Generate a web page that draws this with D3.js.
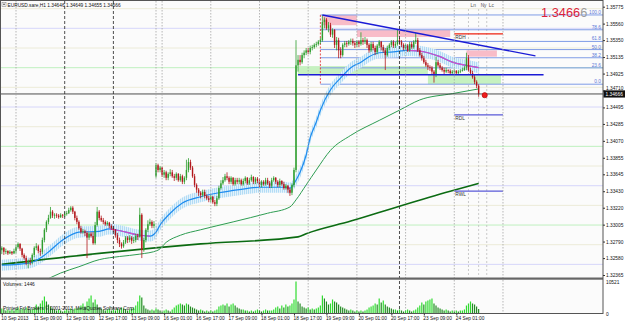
<!DOCTYPE html>
<html>
<head>
<meta charset="utf-8">
<script src="https://cdn.jsdelivr.net/npm/d3@7"></script>
<style>
  body { margin: 0; background: #fff; }
  svg { display: block; font-family: "Liberation Sans", Arial, sans-serif; }
</style>
</head>
<body>
<script>
// EURUSD H1 candles, 10 Sep 17:00 .. 24 Sep 12:00 (open, high, low, close)
const ohlc = [
  [1.3268,1.3273,1.3263,1.3271],[1.3271,1.3272,1.3262,1.3266],[1.3266,1.3270,1.3263,1.3267],[1.3267,1.3268,1.3262,1.3264],
  [1.3264,1.3268,1.3263,1.3266],[1.3266,1.3267,1.3262,1.3264],[1.3264,1.3270,1.3263,1.3267],[1.3267,1.3275,1.3264,1.3272],
  [1.3272,1.3278,1.3270,1.3276],[1.3276,1.3277,1.3267,1.3270],[1.3270,1.3271,1.3259,1.3262],[1.3262,1.3264,1.3256,1.3258],
  [1.3258,1.3261,1.3249,1.3252],[1.3252,1.3256,1.3245,1.3254],[1.3254,1.3258,1.3249,1.3253],[1.3253,1.3264,1.3250,1.3262],
  [1.3262,1.3273,1.3259,1.3271],[1.3271,1.3277,1.3268,1.3273],[1.3273,1.3275,1.3264,1.3267],[1.3267,1.3270,1.3261,1.3266],
  [1.3266,1.3284,1.3263,1.3281],[1.3281,1.3296,1.3278,1.3294],[1.3294,1.3306,1.3291,1.3304],[1.3304,1.3313,1.3301,1.3309],
  [1.3309,1.3323,1.3308,1.3317],[1.3317,1.3319,1.3309,1.3312],[1.3312,1.3315,1.3308,1.3313],[1.3313,1.3315,1.3309,1.3312],
  [1.3312,1.3314,1.3308,1.3310],[1.3310,1.3315,1.3309,1.3313],[1.3313,1.3314,1.3309,1.3312],[1.3312,1.3317,1.3310,1.3314],
  [1.3314,1.3318,1.3312,1.3315],[1.3315,1.3322,1.3314,1.3319],[1.3319,1.3324,1.3317,1.3322],[1.3322,1.3324,1.3314,1.3317],
  [1.3317,1.3318,1.3306,1.3309],[1.3309,1.3312,1.3301,1.3304],[1.3304,1.3306,1.3294,1.3296],[1.3296,1.3299,1.3289,1.3291],
  [1.3291,1.3295,1.3289,1.3292],[1.3292,1.3294,1.3286,1.3290],[1.3290,1.3292,1.3258,1.3284],[1.3284,1.3291,1.3281,1.3289],
  [1.3289,1.3291,1.3284,1.3286],[1.3286,1.3291,1.3275,1.3277],[1.3277,1.3304,1.3275,1.3300],[1.3300,1.3323,1.3298,1.3317],
  [1.3317,1.3319,1.3306,1.3309],[1.3309,1.3312,1.3304,1.3306],[1.3306,1.3309,1.3301,1.3304],[1.3304,1.3306,1.3299,1.3301],
  [1.3301,1.3305,1.3299,1.3303],[1.3303,1.3304,1.3296,1.3299],[1.3299,1.3301,1.3294,1.3296],[1.3296,1.3299,1.3291,1.3294],
  [1.3294,1.3295,1.3284,1.3287],[1.3287,1.3290,1.3277,1.3281],[1.3281,1.3284,1.3272,1.3276],[1.3276,1.3278,1.3270,1.3273],
  [1.3273,1.3281,1.3271,1.3278],[1.3278,1.3286,1.3276,1.3284],[1.3284,1.3286,1.3277,1.3281],[1.3281,1.3287,1.3278,1.3284],
  [1.3284,1.3286,1.3276,1.3280],[1.3280,1.3285,1.3277,1.3281],[1.3281,1.3289,1.3278,1.3286],[1.3286,1.3289,1.3281,1.3285],
  [1.3285,1.3322,1.3284,1.3313],[1.3313,1.3315,1.3258,1.3268],[1.3268,1.3284,1.3266,1.3281],[1.3281,1.3296,1.3278,1.3294],
  [1.3294,1.3306,1.3291,1.3301],[1.3301,1.3308,1.3299,1.3304],[1.3304,1.3306,1.3296,1.3299],[1.3299,1.3305,1.3296,1.3301],
  [1.3362,1.3379,1.3360,1.3376],[1.3376,1.3378,1.3367,1.3370],[1.3370,1.3375,1.3367,1.3373],[1.3373,1.3374,1.3361,1.3364],
  [1.3364,1.3370,1.3360,1.3367],[1.3367,1.3369,1.3357,1.3360],[1.3360,1.3367,1.3357,1.3365],[1.3365,1.3371,1.3362,1.3367],
  [1.3367,1.3370,1.3360,1.3362],[1.3362,1.3365,1.3356,1.3360],[1.3360,1.3367,1.3357,1.3365],[1.3365,1.3366,1.3355,1.3357],
  [1.3357,1.3365,1.3355,1.3362],[1.3362,1.3364,1.3352,1.3355],[1.3355,1.3362,1.3352,1.3360],[1.3360,1.3383,1.3357,1.3370],
  [1.3370,1.3385,1.3367,1.3380],[1.3380,1.3383,1.3370,1.3373],[1.3373,1.3375,1.3360,1.3362],[1.3362,1.3365,1.3348,1.3351],
  [1.3351,1.3353,1.3341,1.3345],[1.3345,1.3347,1.3337,1.3341],[1.3341,1.3343,1.3334,1.3338],[1.3338,1.3345,1.3336,1.3342],
  [1.3342,1.3345,1.3334,1.3337],[1.3337,1.3339,1.3332,1.3334],[1.3334,1.3337,1.3329,1.3332],[1.3332,1.3338,1.3329,1.3336],
  [1.3336,1.3337,1.3327,1.3329],[1.3329,1.3332,1.3324,1.3327],[1.3327,1.3337,1.3324,1.3334],[1.3334,1.3350,1.3332,1.3347],
  [1.3347,1.3357,1.3345,1.3353],[1.3353,1.3361,1.3351,1.3357],[1.3357,1.3365,1.3355,1.3362],[1.3362,1.3367,1.3357,1.3360],
  [1.3360,1.3362,1.3352,1.3355],[1.3355,1.3362,1.3352,1.3360],[1.3360,1.3361,1.3350,1.3352],[1.3352,1.3360,1.3350,1.3357],
  [1.3357,1.3360,1.3352,1.3355],[1.3355,1.3360,1.3352,1.3357],[1.3357,1.3359,1.3350,1.3352],[1.3352,1.3359,1.3350,1.3356],
  [1.3356,1.3362,1.3353,1.3360],[1.3360,1.3361,1.3351,1.3353],[1.3353,1.3360,1.3351,1.3357],[1.3357,1.3364,1.3355,1.3361],
  [1.3361,1.3362,1.3352,1.3355],[1.3355,1.3361,1.3352,1.3359],[1.3359,1.3361,1.3353,1.3356],[1.3356,1.3359,1.3348,1.3351],
  [1.3351,1.3357,1.3348,1.3355],[1.3355,1.3357,1.3350,1.3352],[1.3352,1.3360,1.3350,1.3357],[1.3357,1.3360,1.3351,1.3353],
  [1.3353,1.3356,1.3347,1.3350],[1.3350,1.3360,1.3347,1.3357],[1.3357,1.3362,1.3355,1.3360],[1.3360,1.3361,1.3352,1.3355],
  [1.3355,1.3357,1.3348,1.3351],[1.3351,1.3359,1.3348,1.3356],[1.3356,1.3357,1.3350,1.3352],[1.3352,1.3355,1.3345,1.3347],
  [1.3347,1.3352,1.3345,1.3350],[1.3350,1.3351,1.3341,1.3345],[1.3345,1.3347,1.3337,1.3341],[1.3341,1.3353,1.3338,1.3351],
  [1.3351,1.3373,1.3348,1.3370],[1.3370,1.3535,1.3367,1.3503],[1.3503,1.3516,1.3495,1.3510],[1.3510,1.3516,1.3503,1.3507],
  [1.3507,1.3519,1.3505,1.3516],[1.3516,1.3522,1.3512,1.3519],[1.3519,1.3525,1.3516,1.3522],[1.3522,1.3525,1.3517,1.3520],
  [1.3520,1.3528,1.3517,1.3525],[1.3525,1.3529,1.3522,1.3526],[1.3526,1.3531,1.3524,1.3529],[1.3529,1.3533,1.3526,1.3530],
  [1.3530,1.3535,1.3528,1.3533],[1.3533,1.3538,1.3530,1.3535],[1.3535,1.3567,1.3533,1.3558],[1.3558,1.3564,1.3550,1.3561],
  [1.3561,1.3563,1.3548,1.3550],[1.3550,1.3558,1.3545,1.3554],[1.3554,1.3557,1.3539,1.3542],[1.3542,1.3550,1.3538,1.3548],
  [1.3548,1.3549,1.3525,1.3529],[1.3529,1.3539,1.3522,1.3535],[1.3535,1.3538,1.3512,1.3522],[1.3522,1.3526,1.3512,1.3516],
  [1.3516,1.3531,1.3514,1.3529],[1.3529,1.3534,1.3526,1.3531],[1.3531,1.3534,1.3526,1.3530],[1.3530,1.3535,1.3528,1.3533],
  [1.3533,1.3537,1.3529,1.3534],[1.3534,1.3537,1.3528,1.3531],[1.3531,1.3534,1.3525,1.3529],[1.3529,1.3535,1.3526,1.3533],
  [1.3533,1.3535,1.3526,1.3530],[1.3530,1.3545,1.3528,1.3535],[1.3535,1.3538,1.3529,1.3533],[1.3533,1.3539,1.3530,1.3535],
  [1.3535,1.3537,1.3525,1.3529],[1.3529,1.3531,1.3519,1.3522],[1.3522,1.3533,1.3520,1.3530],[1.3530,1.3533,1.3522,1.3525],
  [1.3525,1.3528,1.3516,1.3520],[1.3520,1.3530,1.3517,1.3528],[1.3528,1.3535,1.3525,1.3533],[1.3533,1.3534,1.3522,1.3526],
  [1.3526,1.3529,1.3519,1.3522],[1.3522,1.3525,1.3497,1.3516],[1.3516,1.3528,1.3514,1.3525],[1.3525,1.3531,1.3522,1.3529],
  [1.3529,1.3535,1.3526,1.3533],[1.3533,1.3535,1.3525,1.3528],[1.3528,1.3533,1.3525,1.3530],[1.3530,1.3548,1.3528,1.3535],
  [1.3535,1.3538,1.3529,1.3533],[1.3533,1.3535,1.3526,1.3529],[1.3529,1.3531,1.3522,1.3525],[1.3525,1.3530,1.3522,1.3528],
  [1.3528,1.3530,1.3520,1.3522],[1.3522,1.3533,1.3520,1.3530],[1.3530,1.3533,1.3524,1.3526],[1.3526,1.3535,1.3524,1.3533],
  [1.3533,1.3544,1.3530,1.3535],[1.3535,1.3538,1.3520,1.3522],[1.3522,1.3525,1.3514,1.3516],[1.3516,1.3519,1.3509,1.3512],
  [1.3512,1.3515,1.3505,1.3507],[1.3507,1.3510,1.3501,1.3503],[1.3503,1.3506,1.3497,1.3501],[1.3501,1.3503,1.3496,1.3500],
  [1.3500,1.3502,1.3492,1.3495],[1.3495,1.3497,1.3481,1.3491],[1.3491,1.3514,1.3488,1.3507],[1.3507,1.3510,1.3501,1.3503],
  [1.3503,1.3506,1.3497,1.3500],[1.3500,1.3502,1.3495,1.3497],[1.3497,1.3500,1.3492,1.3495],[1.3495,1.3500,1.3493,1.3497],
  [1.3497,1.3498,1.3493,1.3496],[1.3496,1.3498,1.3491,1.3493],[1.3493,1.3497,1.3492,1.3495],[1.3495,1.3498,1.3492,1.3496],
  [1.3496,1.3497,1.3491,1.3493],[1.3493,1.3497,1.3492,1.3495],[1.3495,1.3498,1.3493,1.3496],[1.3496,1.3500,1.3495,1.3497],
  [1.3497,1.3502,1.3496,1.3500],[1.3500,1.3519,1.3497,1.3512],[1.3512,1.3516,1.3495,1.3497],[1.3497,1.3500,1.3491,1.3493],
  [1.3493,1.3496,1.3486,1.3488],[1.3488,1.3491,1.3479,1.3482],[1.3482,1.3484,1.3474,1.3477],[1.3477,1.3479,1.3463,1.34666]
];

const volumes = [
  1650,1320,990,1320,990,1320,990,1650,1970,1320,1650,1320,1970,1650,1320,
  1320,1970,2960,2300,3290,4280,5590,3950,2960,2300,
  1650,1320,990,1320,990,660,990,1320,990,1650,1320,1650,
  1650,1970,2630,3290,2300,3950,4940,5920,3620,4610,2960,1970,
  1650,1320,990,1320,1650,990,1320,990,1650,1320,1970,1650,1320,990,1320,1650,1970,
  2630,3950,5920,5270,2630,1650,
  1320,990,1320,990,1650,1320,990,660,990,1320,990,660,
  1320,1970,2630,2960,3290,2960,2630,3290,2960,2300,1970,1650,
  1320,990,1320,990,660,990,660,990,660,990,
  1320,2300,2630,2960,2630,3290,2300,2960,3290,2630,1970,1650,1320,1320,990,
  990,660,990,660,990,1320,990,660,990,1320,990,990,
  990,1320,1970,2300,1650,2630,1970,2960,2300,2630,3290,
  4610,10521,3950,
  3290,2300,1970,1650,1970,1320,1650,1320,1650,1970,
  2630,5920,4940,3950,2960,3290,4610,3950,3620,2960,2300,1970,
  1650,1320,990,1320,990,660,990,660,990,660,990,
  1320,1970,2300,2630,3290,2960,4940,3620,4280,2960,2300,1970,1650,1320,
  1320,990,1320,990,660,990,1320,990,660,990,1320,
  1970,2630,3620,2960,3950,4280,4610,4940,3290,2630,1970,1650,
  1320,990,1320,990,660,990,660,990,660,990,990,1320,
  2630,3290,3950,3290,2960,2300,1446
];

// moving averages, [bar, price]
const fastMA = [[0,1.3249],[14,1.3252],[19,1.3258],[24,1.3268],[30,1.3281],[38,1.3291],[48,1.3292],[53,1.3295],
  [56,1.3294],[68,1.3287],[73,1.3286],[76,1.3291],[78,1.3300],[83,1.3315],[89,1.3328],[98,1.3336],[107,1.3341],
  [117,1.3345],[127,1.3348],[139,1.3348],[142,1.3347],[145,1.3357],[147,1.3367],[150,1.3389],[152,1.3411],
  [155,1.3431],[157,1.3446],[162,1.3472],[167,1.3487],[172,1.3500],[177,1.3507],[181,1.3514],[186,1.3519],
  [193,1.3520],[200,1.3522],[206,1.3521],[210,1.3519],[216,1.3514],[222,1.3507],[229,1.3503],[235,1.3500]];
const midMA = [[20,1.3228],[29,1.3239],[38,1.3247],[48,1.3256],[58,1.3260],[68,1.3263],[77,1.3268],[81,1.3278],
  [88,1.3287],[98,1.3294],[114,1.3304],[131,1.3315],[142,1.3323],[145,1.3332],[150,1.3351],[155,1.3370],
  [162,1.3395],[172,1.3414],[186,1.3433],[196,1.3446],[206,1.3459],[222,1.3467],[235,1.3473]];
const slowMA = [[0,1.3250],[48,1.3264],[98,1.3276],[146,1.3285],[150,1.3289],[172,1.3305],[196,1.3324],
  [221,1.3343],[235,1.3353]];
const bandHalf = 0.0007;

const priceTicks = [1.35775,1.35560,1.35350,1.35135,1.34925,1.34710,1.34495,1.34285,1.34070,
  1.33855,1.33645,1.33430,1.33220,1.33005,1.32790,1.32580,1.32365];
const timeBars = [0,16,32,48,64,80,96,112,128,144,160,176,192,208,224];
const timeLabels = ["10 Sep 2013","11 Sep 09:00","12 Sep 01:00","12 Sep 17:00","13 Sep 09:00","16 Sep 01:00",
  "16 Sep 17:00","17 Sep 09:00","18 Sep 01:00","18 Sep 17:00","19 Sep 09:00","20 Sep 01:00","20 Sep 17:00",
  "23 Sep 09:00","24 Sep 01:00"];

const roundLevels = [1.3575,1.3550,1.3525,1.3500,1.3475,1.3450,1.3425,1.3400,1.3375,1.3350,1.3325,1.3300,1.3275,1.3250];
const fibRatios = [0, 23.6, 38.2, 50, 61.8, 78.6, 100];
const fibLow = 1.3479, fibHigh = 1.3567, fibBar = 157;

const pinkZones = [[158,175,1.3554,1.3567],[175,221,1.3539,1.3548],[229,244,1.3514,1.3522]];
const greenZones = [[146,210,1.3492,1.3502],[210,246,1.3479,1.3492]];

const blackSeparators = [31,55,196];
const graySeparators = [7,76,79,103,127,151,175,199,223,247];
const sessionBars = [230,235,239];
const sessionNames = ["Ln","Ny","Lc"];

const levelNames = ["RDH","RDL","RWL"];
const levelPrices = [1.3543,1.3440,1.3343];
const trendBars = [158,263], trendPrices = [1.3567,1.3515];
const supportPrice = 1.3491, supportBars = [146,267];
const lastPrice = 1.34666;
const titleText = "EURUSD.sare,H1  1.34646 1.34649 1.34655 1.34666";

// layout
const width = 625, height = 324;
const plotRight = 603, mainBottom = 277.5, volBottom = 313.5;

const svg = d3.select("body").append("svg").attr("width", width).attr("height", height);
svg.append("rect").attr("width", width).attr("height", height).attr("fill", "#fff");
svg.append("rect").attr("x", 0.5).attr("y", 0.5).attr("width", plotRight - 0.5).attr("height", volBottom - 0.5)
  .attr("fill", "#fbfbfb");

const x = d3.scaleLinear().domain([0, 296]).range([1.8, 602.4]);
const y = d3.scaleLinear().domain([1.32365, 1.35775]).range([275, 6.7]);
const yv = d3.scaleLinear().domain([0, 10521]).range([volBottom, 281.5]);

const defs = svg.append("defs");
defs.append("clipPath").attr("id", "main").append("rect")
  .attr("x", 0).attr("y", 0).attr("width", plotRight).attr("height", mainBottom);
const hatch = defs.append("pattern").attr("id", "hatch").attr("patternUnits", "userSpaceOnUse")
  .attr("width", 2).attr("height", 4);
hatch.append("rect").attr("width", 2).attr("height", 4).attr("fill", "#e2f2fc");
hatch.append("line").attr("x1", 0.5).attr("x2", 0.5).attr("y1", 0).attr("y2", 4)
  .attr("stroke", "#a2d4f2").attr("stroke-width", 0.8);

const main = svg.append("g").attr("clip-path", "url(#main)");

// round number levels
main.selectAll(".lvl").data(roundLevels).enter().append("line")
  .attr("x1", 0).attr("x2", plotRight).attr("y1", d => y(d)).attr("y2", d => y(d))
  .attr("stroke", d => {
    const p = Math.round(d * 10000) % 100;
    return p === 0 ? "#bff0bf" : p === 50 ? "#d6d6fa" : "#ecebd8";
  }).attr("stroke-width", 1);

// separators (both panes)
svg.selectAll(".sepk").data(blackSeparators).enter().append("line")
  .attr("x1", d => x(d)).attr("x2", d => x(d)).attr("y1", 1).attr("y2", volBottom)
  .attr("stroke", "#222").attr("stroke-width", 0.8).attr("stroke-dasharray", "3,2");
svg.selectAll(".sepg").data(graySeparators).enter().append("line")
  .attr("x1", d => x(d)).attr("x2", d => x(d)).attr("y1", 1).attr("y2", volBottom)
  .attr("stroke", "#a4a4a4").attr("stroke-width", 0.8).attr("stroke-dasharray", "1.5,1.5");
main.selectAll(".sess").data(sessionBars).enter().append("line")
  .attr("x1", d => x(d)).attr("x2", d => x(d)).attr("y1", 9).attr("y2", mainBottom)
  .attr("stroke", "#b4b4b4").attr("stroke-width", 0.7).attr("stroke-dasharray", "2,2");

// zones
main.selectAll(".gz").data(greenZones).enter().append("rect")
  .attr("x", d => x(d[0])).attr("width", d => x(d[1]) - x(d[0]))
  .attr("y", d => y(d[3])).attr("height", d => y(d[2]) - y(d[3]))
  .attr("fill", "#c6f1c0");
main.selectAll(".pz").data(pinkZones).enter().append("rect")
  .attr("x", d => x(d[0])).attr("width", d => x(d[1]) - x(d[0]))
  .attr("y", d => y(d[3])).attr("height", d => y(d[2]) - y(d[3]))
  .attr("fill", "#f8bcc8");

// fibonacci
const fibPrice = r => fibLow + (fibHigh - fibLow) * r / 100;
main.selectAll(".fib").data(fibRatios).enter().append("line")
  .attr("x1", x(fibBar)).attr("x2", plotRight).attr("y1", d => y(fibPrice(d))).attr("y2", d => y(fibPrice(d)))
  .attr("stroke", "#7f9ce6").attr("stroke-width", 1);
main.append("line").attr("x1", x(fibBar)).attr("x2", x(fibBar)).attr("y1", y(fibHigh)).attr("y2", y(fibLow))
  .attr("stroke", "#e02020").attr("stroke-width", 0.8).attr("stroke-dasharray", "2,1.5");

// fast MA band + lines
main.append("path").datum(fastMA)
  .attr("d", d3.area().x(d => x(d[0])).y0(d => y(d[1] - bandHalf)).y1(d => y(d[1] + bandHalf))
    .curve(d3.curveMonotoneX))
  .attr("fill", "url(#hatch)").attr("opacity", 0.95);

const maLine = d3.line().x(d => x(d[0])).y(d => y(d[1])).curve(d3.curveMonotoneX);
main.append("path").datum(slowMA).attr("d", maLine).attr("fill", "none")
  .attr("stroke", "#0b6b12").attr("stroke-width", 1.6);
main.append("path").datum(midMA).attr("d", maLine).attr("fill", "none")
  .attr("stroke", "#2e9d52").attr("stroke-width", 1);
main.append("path").datum(fastMA).attr("d", maLine).attr("fill", "none")
  .attr("stroke", "#1e8cf0").attr("stroke-width", 1.2);
// falling runs of the fast MA in magenta
let run = [];
const runs = [];
fastMA.forEach((p, i) => {
  const next = fastMA[i + 1];
  if (next && next[1] < p[1]) { if (!run.length) run.push(p); run.push(next); }
  else if (run.length) { runs.push(run); run = []; }
});
main.selectAll(".down").data(runs).enter().append("path").attr("d", maLine)
  .attr("fill", "none").attr("stroke", "#d54bc8").attr("stroke-width", 1.2);

// candles
const cw = 1.4;
const candle = main.selectAll(".c").data(ohlc).enter().append("g");
candle.append("line")
  .attr("x1", (d, i) => x(i)).attr("x2", (d, i) => x(i))
  .attr("y1", d => y(d[1])).attr("y2", d => y(d[2]))
  .attr("stroke", d => d[3] >= d[0] ? "#2f9e2f" : "#b3171b").attr("stroke-width", 0.8);
candle.append("rect")
  .attr("x", (d, i) => x(i) - cw / 2).attr("width", cw)
  .attr("y", d => y(Math.max(d[0], d[3])))
  .attr("height", d => Math.max(0.8, Math.abs(y(d[0]) - y(d[3]))))
  .attr("fill", d => d[3] >= d[0] ? "#2f9e2f" : "#b3171b");

// trend line and support
main.append("line").attr("x1", x(trendBars[0])).attr("x2", x(trendBars[1]))
  .attr("y1", y(trendPrices[0])).attr("y2", y(trendPrices[1]))
  .attr("stroke", "#1b1bd6").attr("stroke-width", 1.4);
main.append("line").attr("x1", x(supportBars[0])).attr("x2", x(supportBars[1]))
  .attr("y1", y(supportPrice)).attr("y2", y(supportPrice))
  .attr("stroke", "#1b1bd6").attr("stroke-width", 1.4);

// daily / weekly levels
levelPrices.forEach((p, i) => {
  main.append("line").attr("x1", x(223)).attr("x2", x(247)).attr("y1", y(p)).attr("y2", y(p))
    .attr("stroke", i === 0 ? "#ee2211" : "#5a5ad8").attr("stroke-width", 1.3);
  main.append("text").attr("x", x(223) + 1).attr("y", y(p) + 5).attr("font-size", 4.8)
    .attr("fill", "#333").text(levelNames[i]);
});

// bid line and marker
main.append("line").attr("x1", 0).attr("x2", plotRight).attr("y1", y(lastPrice)).attr("y2", y(lastPrice))
  .attr("stroke", "#3a3a3a").attr("stroke-width", 0.9);
main.append("circle").attr("cx", x(238)).attr("cy", y(1.3465)).attr("r", 2.6)
  .attr("fill", "#ee1c1c").attr("stroke", "#b00000").attr("stroke-width", 0.6);

// fib labels
svg.selectAll(".fibt").data(fibRatios).enter().append("text")
  .attr("x", plotRight - 2).attr("y", d => y(fibPrice(d)) - 1).attr("text-anchor", "end")
  .attr("font-size", 4.8).attr("fill", "#5b78d8").text(d => d.toFixed(1));

// session labels
svg.selectAll(".sesst").data(sessionNames).enter().append("text")
  .attr("x", (d, i) => x(sessionBars[i]) + 2).attr("y", 6.5).attr("font-size", 4.8).attr("fill", "#555")
  .text(d => d);

// big price
const big = svg.append("text").attr("x", 541).attr("y", 17).attr("font-size", 12.8);
big.append("tspan").attr("fill", "#dc1f3c").text("1.3466");
big.append("tspan").attr("fill", "#9c9c9c").text("6");

// title
svg.append("rect").attr("x", 2).attr("y", 2.5).attr("width", 4).attr("height", 4)
  .attr("fill", "#fff").attr("stroke", "#777").attr("stroke-width", 0.5);
svg.append("path").attr("d", "M2.9,3.8 L5.1,3.8 L4,5.6 Z").attr("fill", "#333");
svg.append("text").attr("x", 7.5).attr("y", 6.5).attr("font-size", 4.8).attr("fill", "#111").text(titleText);

// volumes
svg.selectAll(".v").data(volumes).enter().append("line")
  .attr("x1", (d, i) => x(i)).attr("x2", (d, i) => x(i))
  .attr("y1", yv(0)).attr("y2", d => yv(d))
  .attr("stroke", (d, i) => i > 0 && d < volumes[i - 1] ? "#238c23" : "#2fdc2f")
  .attr("stroke-width", 1.2);
svg.append("text").attr("x", 3).attr("y", 286).attr("font-size", 4.8).attr("fill", "#111")
  .text("Volumes: " + volumes[volumes.length - 1]);
svg.append("text").attr("x", 3).attr("y", 310).attr("font-size", 4.8).attr("fill", "#111")
  .text("Printed Fxl Brokers © 2001-2013, MetaQuotes Software Corp.");

// pane separator and frame
svg.append("rect").attr("x", 0).attr("y", mainBottom).attr("width", plotRight).attr("height", 2.2)
  .attr("fill", "#666");
svg.append("rect").attr("x", 0.5).attr("y", 0.5).attr("width", plotRight - 0.5).attr("height", volBottom - 0.5)
  .attr("fill", "none").attr("stroke", "#555").attr("stroke-width", 1);

// price axis
const gy = svg.append("g").attr("transform", `translate(${plotRight},0)`)
  .call(d3.axisRight(y).tickValues(priceTicks).tickSize(2).tickFormat(d3.format(".5f")));
gy.attr("font-family", null).attr("font-size", 4.8);
gy.select(".domain").remove();
gy.selectAll("text").attr("x", 3).attr("fill", "#111")
  .attr("dy", d => Math.abs(y(d) - y(lastPrice)) < 7 ? "-0.3em" : "0.32em");
gy.selectAll("line").attr("stroke", "#333");

// current price box
svg.append("rect").attr("x", plotRight + 0.5).attr("y", y(lastPrice) - 3.6).attr("width", 21.5).attr("height", 7.2)
  .attr("fill", "#111");
svg.append("text").attr("x", plotRight + 2.5).attr("y", y(lastPrice) + 1.8).attr("font-size", 4.8)
  .attr("fill", "#fff").text(lastPrice.toFixed(5));

// volume axis
const gv = svg.append("g").attr("transform", `translate(${plotRight},0)`)
  .call(d3.axisRight(yv).tickValues([0, 10521]).tickSize(0).tickFormat(d3.format("d")));
gv.attr("font-family", null).attr("font-size", 4.8);
gv.select(".domain").remove();
gv.selectAll("text").attr("x", 3).attr("fill", "#111");

// time axis
const gx = svg.append("g").attr("transform", `translate(0,${volBottom})`)
  .call(d3.axisBottom(x).tickValues(timeBars).tickSize(2).tickFormat((d, i) => timeLabels[i]));
gx.attr("font-family", null).attr("font-size", 4.8);
gx.select(".domain").remove();
gx.selectAll("text").attr("text-anchor", "start").attr("x", -1).attr("y", 3.5).attr("fill", "#111");
gx.selectAll("line").attr("stroke", "#333");
</script>
</body>
</html>
